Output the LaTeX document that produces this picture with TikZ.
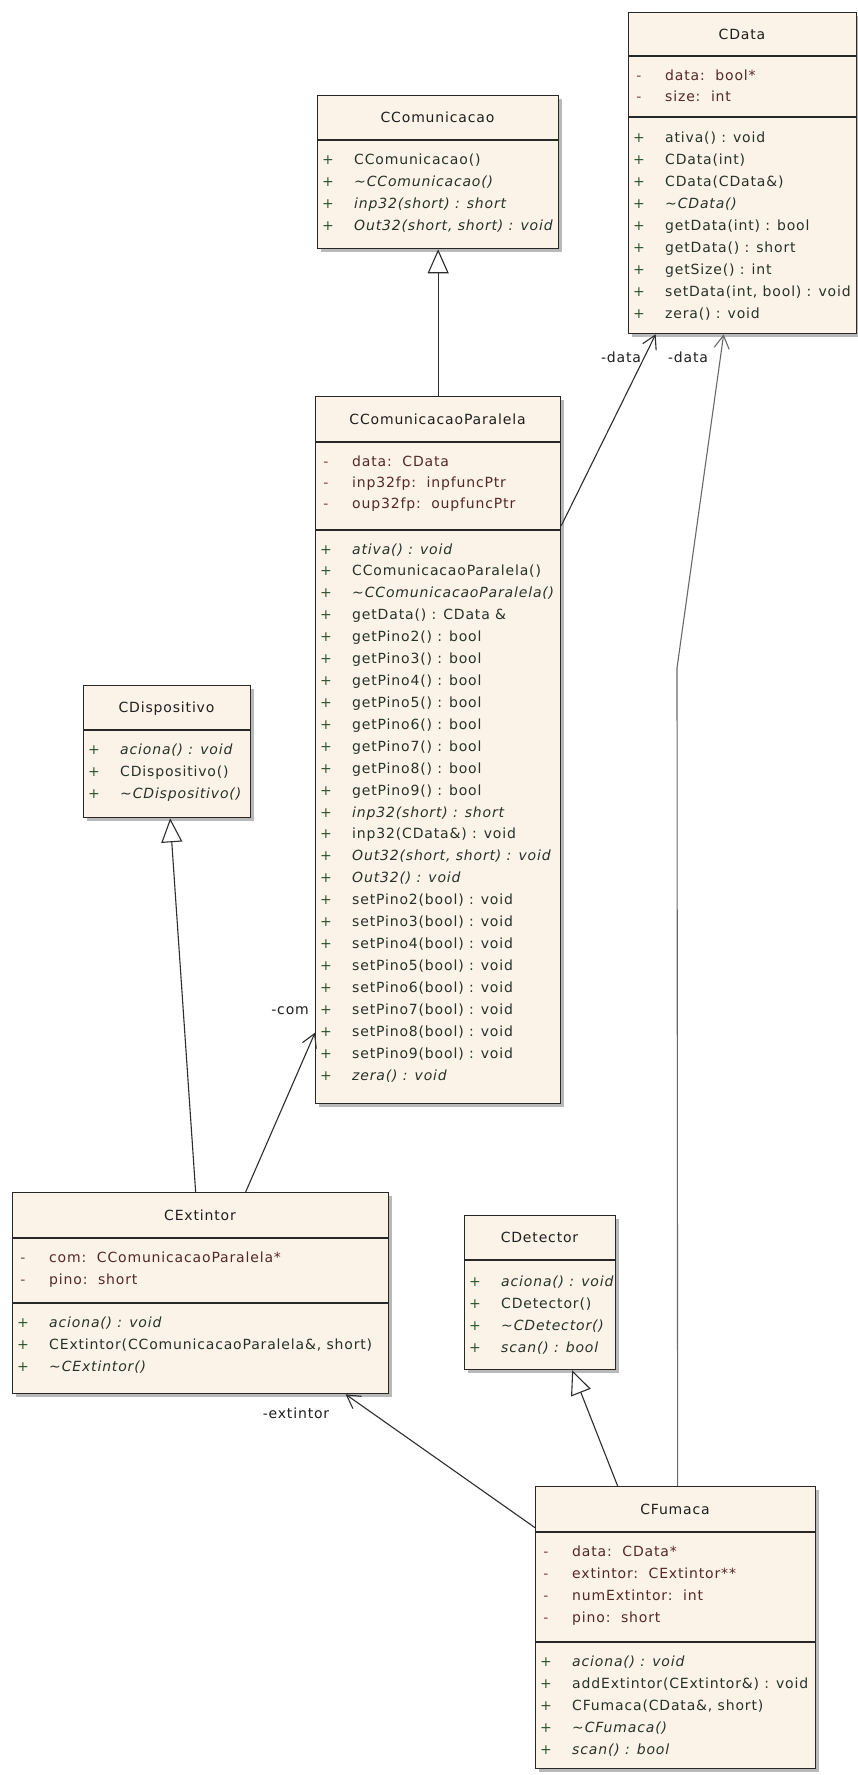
\documentclass[tikz,border=0pt]{standalone}
\usepackage{fontspec}
\setmainfont{DejaVu Sans}[LetterSpace=6]
\usetikzlibrary{arrows.meta}

\definecolor{boxfill}{RGB}{251,243,232}
\definecolor{boxline}{RGB}{40,40,40}
\definecolor{titlecol}{RGB}{30,30,30}
\definecolor{attrcol}{RGB}{85,40,38}
\definecolor{opcol}{RGB}{38,50,40}
\definecolor{pluscol}{RGB}{45,85,50}
\definecolor{minuscol}{RGB}{120,65,55}
\definecolor{linkcol}{RGB}{45,45,45}
\definecolor{graylink}{RGB}{105,105,105}
\definecolor{shadowcol}{RGB}{185,185,185}

% class frame: name, left, top, right, bottom, title rule, title
\newcommand\umlclass[7]{%
  \fill[shadowcol] ({#2+4},{#3+4}) rectangle ({#4+4},{#5+4});
  \node[box, minimum width={#4-#2}, minimum height={#5-#3}] (#1) at (#2,#3) {};
  \draw[sep] (#2,#6) -- (#4,#6);
  \node[title] (#1-name) at ({(#2+#4)/2},{(#3+#6)/2+5}) {#7};
}
% private attribute row: name, left, row centre, text
\newcommand\umlattr[4]{%
  \node[vis, text=minuscol] (#1-v) at ({#2+11},{#3+5}) {-};
  \node[member, text=attrcol] (#1) at ({#2+37},{#3+5}) {#4};
}
% public operation row: name, left, row centre, text
\newcommand\umlop[4]{%
  \node[vis, text=pluscol] (#1-v) at ({#2+11},{#3+5}) {+};
  \node[member, text=opcol] (#1) at ({#2+37},{#3+5}) {#4};
}
\newcommand\tld{\textasciitilde}

\begin{document}
\begin{tikzpicture}[x=1pt, y=-1pt,
  every node/.style={inner sep=0pt, font=\fontsize{14}{16}\selectfont},
  box/.style={draw=boxline, line width=1.3pt, fill=boxfill, anchor=north west},
  sep/.style={draw=boxline, line width=1.3pt},
  title/.style={anchor=base, text=titlecol},
  vis/.style={anchor=base},
  member/.style={anchor=base west},
  lbl/.style={text=titlecol},
  gen/.style={draw=linkcol, line width=1.1pt, -{Triangle[open, length=24pt, width=21pt, line width=1.1pt]}},
  assoc/.style={draw=linkcol, line width=1.1pt, -{Straight Barb[length=13pt, width=15pt, line width=1.1pt]}}
]
\useasboundingbox[fill=white] (0,0) rectangle (858,1775);

% ---------- CComunicacao ----------
\umlclass{ccom}{317}{95}{558}{248}{140}{CComunicacao}
\umlop{ccom-o1}{317}{159}{CComunicacao()}
\umlop{ccom-o2}{317}{181}{\itshape \tld CComunicacao()}
\umlop{ccom-o3}{317}{203}{\itshape inp32(short) : short}
\umlop{ccom-o4}{317}{225}{\itshape Out32(short, short) : void}

% ---------- CData ----------
\umlclass{cdata}{628}{12}{856}{333}{56}{CData}
\umlattr{cdata-a1}{628}{75}{data:\ \ bool*}
\umlattr{cdata-a2}{628}{96}{size:\ \ int}
\draw[sep] (628,117) -- (856,117);
\umlop{cdata-o1}{628}{137}{ativa() : void}
\umlop{cdata-o2}{628}{159}{CData(int)}
\umlop{cdata-o3}{628}{181}{CData(CData\&)}
\umlop{cdata-o4}{628}{203}{\itshape \tld CData()}
\umlop{cdata-o5}{628}{225}{getData(int) : bool}
\umlop{cdata-o6}{628}{247}{getData() : short}
\umlop{cdata-o7}{628}{269}{getSize() : int}
\umlop{cdata-o8}{628}{291}{setData(int, bool) : void}
\umlop{cdata-o9}{628}{313}{zera() : void}

% ---------- CComunicacaoParalela ----------
\umlclass{ccp}{315}{396}{560}{1103}{442}{CComunicacaoParalela}
\umlattr{ccp-a1}{315}{461}{data:\ \ CData}
\umlattr{ccp-a2}{315}{482}{inp32fp:\ \ inpfuncPtr}
\umlattr{ccp-a3}{315}{503}{oup32fp:\ \ oupfuncPtr}
\draw[sep] (315,530) -- (560,530);
\umlop{ccp-o0}{315}{549+0*21.92}{\itshape ativa() : void}
\umlop{ccp-o1}{315}{549+1*21.92}{CComunicacaoParalela()}
\umlop{ccp-o2}{315}{549+2*21.92}{\itshape \tld CComunicacaoParalela()}
\umlop{ccp-o3}{315}{549+3*21.92}{getData() : CData \&}
\umlop{ccp-o4}{315}{549+4*21.92}{getPino2() : bool}
\umlop{ccp-o5}{315}{549+5*21.92}{getPino3() : bool}
\umlop{ccp-o6}{315}{549+6*21.92}{getPino4() : bool}
\umlop{ccp-o7}{315}{549+7*21.92}{getPino5() : bool}
\umlop{ccp-o8}{315}{549+8*21.92}{getPino6() : bool}
\umlop{ccp-o9}{315}{549+9*21.92}{getPino7() : bool}
\umlop{ccp-o10}{315}{549+10*21.92}{getPino8() : bool}
\umlop{ccp-o11}{315}{549+11*21.92}{getPino9() : bool}
\umlop{ccp-o12}{315}{549+12*21.92}{\itshape inp32(short) : short}
\umlop{ccp-o13}{315}{549+13*21.92}{inp32(CData\&) : void}
\umlop{ccp-o14}{315}{549+14*21.92}{\itshape Out32(short, short) : void}
\umlop{ccp-o15}{315}{549+15*21.92}{\itshape Out32() : void}
\umlop{ccp-o16}{315}{549+16*21.92}{setPino2(bool) : void}
\umlop{ccp-o17}{315}{549+17*21.92}{setPino3(bool) : void}
\umlop{ccp-o18}{315}{549+18*21.92}{setPino4(bool) : void}
\umlop{ccp-o19}{315}{549+19*21.92}{setPino5(bool) : void}
\umlop{ccp-o20}{315}{549+20*21.92}{setPino6(bool) : void}
\umlop{ccp-o21}{315}{549+21*21.92}{setPino7(bool) : void}
\umlop{ccp-o22}{315}{549+22*21.92}{setPino8(bool) : void}
\umlop{ccp-o23}{315}{549+23*21.92}{setPino9(bool) : void}
\umlop{ccp-o24}{315}{549+24*21.92}{\itshape zera() : void}

% ---------- CDispositivo ----------
\umlclass{cdisp}{83}{685}{250}{817}{730}{CDispositivo}
\umlop{cdisp-o1}{83}{749}{\itshape aciona() : void}
\umlop{cdisp-o2}{83}{771}{CDispositivo()}
\umlop{cdisp-o3}{83}{793}{\itshape \tld CDispositivo()}

% ---------- CExtintor ----------
\umlclass{cext}{12}{1192}{388}{1393}{1238}{CExtintor}
\umlattr{cext-a1}{12}{1257}{com:\ \ CComunicacaoParalela*}
\umlattr{cext-a2}{12}{1279}{pino:\ \ short}
\draw[sep] (12,1303) -- (388,1303);
\umlop{cext-o1}{12}{1322}{\itshape aciona() : void}
\umlop{cext-o2}{12}{1344}{CExtintor(CComunicacaoParalela\&, short)}
\umlop{cext-o3}{12}{1366}{\itshape \tld CExtintor()}

% ---------- CDetector ----------
\umlclass{cdet}{464}{1215}{615}{1369}{1260}{CDetector}
\umlop{cdet-o1}{464}{1281}{\itshape aciona() : void}
\umlop{cdet-o2}{464}{1303}{CDetector()}
\umlop{cdet-o3}{464}{1325}{\itshape \tld CDetector()}
\umlop{cdet-o4}{464}{1347}{\itshape scan() : bool}

% ---------- CFumaca ----------
\umlclass{cfum}{535}{1486}{815}{1768}{1532}{CFumaca}
\umlattr{cfum-a1}{535}{1551}{data:\ \ CData*}
\umlattr{cfum-a2}{535}{1573}{extintor:\ \ CExtintor**}
\umlattr{cfum-a3}{535}{1595}{numExtintor:\ \ int}
\umlattr{cfum-a4}{535}{1617}{pino:\ \ short}
\draw[sep] (535,1642) -- (815,1642);
\umlop{cfum-o1}{535}{1661}{\itshape aciona() : void}
\umlop{cfum-o2}{535}{1683}{addExtintor(CExtintor\&) : void}
\umlop{cfum-o3}{535}{1705}{CFumaca(CData\&, short)}
\umlop{cfum-o4}{535}{1727}{\itshape \tld CFumaca()}
\umlop{cfum-o5}{535}{1749}{\itshape scan() : bool}

% ---------- generalizations ----------
\draw[gen] (ccp.north) -- (ccom.south);
\draw[gen] ([xshift=-5pt]cext.north) -- ([xshift=3pt]cdisp.south);
\draw[gen] ([xshift=-58pt]cfum.north) -- ([xshift=32pt]cdet.south);

% ---------- associations ----------
\draw[assoc] ([xshift=45pt]cext.north) -- ([yshift=-282.5pt]ccp.west);
\draw[assoc] ([yshift=224.5pt]ccp.east) -- ([xshift=-87pt]cdata.south);
\coordinate (fumbend) at (677,668);
\draw[assoc, draw=graylink] ([xshift=2pt]cfum.north) -- (fumbend) -- ([xshift=-19pt]cdata.south);
\draw[assoc] ([yshift=100pt]cfum.west) -- ([xshift=145pt]cext.south);

% ---------- role names ----------
\node[lbl, anchor=base] (role-data1) at (621,362) {-data};
\node[lbl, anchor=base] (role-data2) at (688,362) {-data};
\node[lbl, anchor=base east] (role-com) at (309,1014) {-com};
\node[lbl, anchor=base] (role-ext) at (296,1418) {-extintor};
\end{tikzpicture}
\end{document}
